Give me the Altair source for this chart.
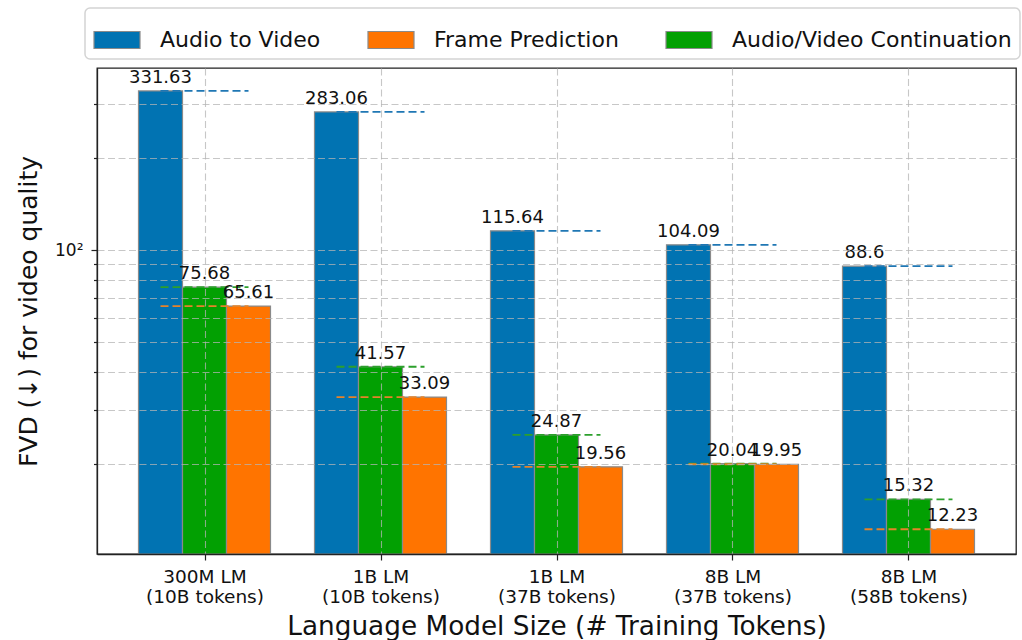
import json

import altair as alt
import pandas as pd

# Model configurations along the x axis (two-line tick labels)
model_sizes = ["300M LM", "1B LM", "1B LM", "8B LM", "8B LM"]
token_counts = ["(10B tokens)", "(10B tokens)", "(37B tokens)", "(37B tokens)", "(58B tokens)"]

# FVD per task (lower is better)
audio_to_video = [331.63, 283.06, 115.64, 104.09, 88.6]
av_continuation = [75.68, 41.57, 24.87, 20.04, 15.32]
frame_prediction = [65.61, 33.09, 19.56, 19.95, 12.23]

# Bar order inside each group (left -> right) and legend order
bar_series = [
    ("Audio to Video", audio_to_video),
    ("Audio/Video Continuation", av_continuation),
    ("Frame Prediction", frame_prediction),
]
legend_order = ["Audio to Video", "Frame Prediction", "Audio/Video Continuation"]
bar_colors = ["#0173b2", "#ff7400", "#02a002"]
line_colors = ["#1f77b4", "#e5832a", "#2ca02c"]

Y_MIN, Y_MAX = 10.15, 394.0
FONT = "DejaVu Sans"
INK = "#111111"

rows = []
for g in range(len(model_sizes)):
    for slot, (name, vals) in enumerate(bar_series):
        rows.append({"group": g, "slot": slot - 1, "series": name,
                     "value": vals[g], "label": str(vals[g])})
df = pd.DataFrame(rows)

tick_text = json.dumps([[m, t] for m, t in zip(model_sizes, token_counts)])

x_scale = alt.Scale(domain=[-0.6108, 4.6108], nice=False, zero=False)
y_scale = alt.Scale(type="log", domain=[Y_MIN, Y_MAX], nice=False)

grid_style = dict(grid=True, gridColor="#b4b4b4", gridOpacity=0.75,
                  gridDash=[7, 3.5], gridWidth=1.1)

x_axis = alt.Axis(
    values=[0, 1, 2, 3, 4],
    labelExpr=f"{tick_text}[datum.value]",
    labelFontSize=18.5, labelLineHeight=20, labelPadding=7,
    labelBaseline="top", labelColor=INK, labelFont=FONT,
    labelFlush=False, labelOverlap=False,
    tickSize=6, tickColor="#222222", tickWidth=1.2,
    domainColor="#222222", domainWidth=1.3,
    titleFontSize=26.3, titleFontWeight="normal", titleFont=FONT, titleColor=INK,
    titleX=459.5, titleY=80, titleAlign="center", titleBaseline="alphabetic",
    zindex=1, **grid_style,
)

y_axis = alt.Axis(
    values=[20, 30, 40, 50, 60, 70, 80, 90, 100, 200, 300],
    labelExpr="datum.value == 100 ? '10²' : ''",
    labelFontSize=17, labelPadding=8, labelColor=INK, labelFont=FONT,
    tickSize={"condition": {"test": "datum.value == 100", "value": 6}, "value": 3.5},
    tickColor="#222222", tickWidth=1.2,
    domainColor="#222222", domainWidth=1.3,
    titleFontSize=25, titleFontWeight="normal", titleFont=FONT, titleColor=INK,
    titleAngle=270, titleX=-61, titleY=243, titleAlign="center",
    titleBaseline="alphabetic",
    zindex=1, **grid_style,
)

base = alt.Chart(df).transform_calculate(
    center="datum.group + datum.slot * 0.25",
    left="datum.group + datum.slot * 0.25 - 0.125",
    right="datum.group + datum.slot * 0.25 + 0.125",
    lo="datum.group - 0.25",
    hi="datum.group + 0.25",
)

bars = base.mark_bar(stroke="#8a8a8a", strokeWidth=1.2, opacity=1).encode(
    x=alt.X("left:Q", scale=x_scale, axis=x_axis,
            title="Language Model Size (# Training Tokens)"),
    x2="right:Q",
    y=alt.Y("value:Q", scale=y_scale, axis=y_axis,
            title="FVD (↓) for video quality"),
    y2=alt.datum(Y_MIN),
    color=alt.Color(
        "series:N",
        scale=alt.Scale(domain=legend_order, range=bar_colors),
        legend=alt.Legend(
            title=None, orient="none", legendX=-12, legendY=-60,
            direction="horizontal", columns=3,
            symbolType="M-1,-0.37H1V0.37H-1Z", symbolSize=2116,
            symbolStrokeColor="#8a8a8a", symbolStrokeWidth=1.2, symbolOpacity=1,
            labelFontSize=22, labelFont=FONT, labelColor=INK, labelLimit=0,
            labelOffset=19, columnPadding=44, padding=8,
            fillColor="white", strokeColor="#d4d4d4", cornerRadius=5,
        ),
    ),
)

rules = base.mark_rule(strokeDash=[8, 4], strokeWidth=1.8).encode(
    x=alt.X("lo:Q", scale=x_scale),
    x2="hi:Q",
    y=alt.Y("value:Q", scale=y_scale),
    color=alt.Color("series:N",
                    scale=alt.Scale(domain=legend_order, range=line_colors),
                    legend=None),
)

labels = base.mark_text(fontSize=18, font=FONT, color=INK, dy=-8,
                        baseline="alphabetic", align="center").encode(
    x=alt.X("center:Q", scale=x_scale),
    y=alt.Y("value:Q", scale=y_scale),
    text="label:N",
)

chart = (
    alt.layer(bars, rules, labels)
    .resolve_scale(color="independent")
    .properties(
        width=919, height=486,
        padding={"left": 97, "top": 68, "right": 6, "bottom": 86},
        autosize=alt.AutoSizeParams(type="none"),
    )
    .configure(font=FONT)
    .configure_view(stroke="#222222", strokeWidth=1.3)
    .configure_legend(strokeWidth=1.5)
)

chart.save("out.html", embed_options={"renderer": "svg", "actions": False})
